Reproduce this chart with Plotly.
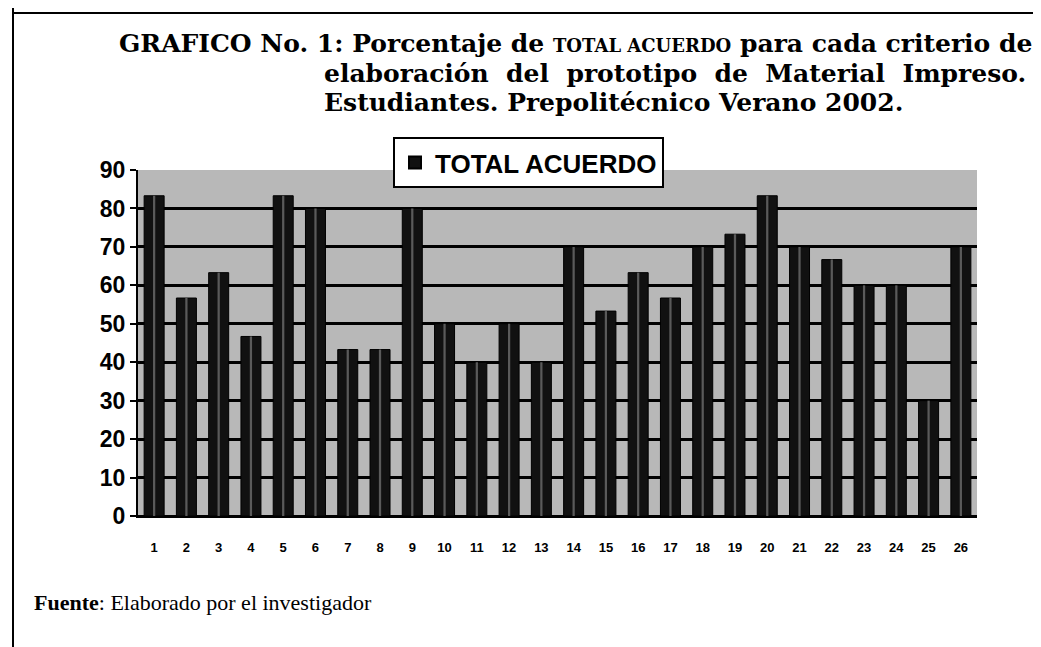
import plotly.graph_objects as go

categories = [str(i) for i in range(1, 27)]
total_acuerdo = [83.3, 56.7, 63.3, 46.7, 83.3, 80.0, 43.3, 43.3, 80.0, 50.0, 40.0, 50.0, 40.0,
                 70.0, 53.3, 63.3, 56.7, 70.0, 73.3, 83.3, 70.0, 66.7, 60.0, 60.0, 30.0, 70.0]
y_ticks = list(range(0, 100, 10))

# page body has an 8px margin, so work in page pixels and shift
OFF = 8
W, H = 1041 - OFF, 647 - OFF
L, R, T, B = 138 - OFF, 977 - OFF, 170 - OFF, 516 - OFF

def px(x):
    return (x - OFF - L) / (R - L)

def py(y):
    return (B - (y - OFF)) / (B - T)

fig = go.Figure()
fig.add_trace(go.Bar(
    x=categories, y=total_acuerdo, name="<b>TOTAL ACUERDO</b>",
    marker=dict(color="#111111", line=dict(color="#000000", width=1)),
    width=0.62, showlegend=True,
))
fig.add_trace(go.Bar(
    x=categories, y=total_acuerdo, name="",
    marker=dict(color="#5a5a5a", line=dict(width=0)),
    width=0.07, showlegend=False, hoverinfo="skip",
))

serif = "DejaVu Serif"
title_lines = [
    ("GRAFICO No. 1: Porcentaje de <span style='font-size:18px'>TOTAL ACUERDO</span> para cada criterio de", 117, 43),
    ("elaboración  del  prototipo  de  Material  Impreso.", 322, 73),
    ("Estudiantes. Prepolitécnico Verano 2002.", 322, 103),
]
annotations = []
for text, x0, yc in title_lines:
    annotations.append(dict(
        text="<b>" + text + "</b>", x=px(x0), y=py(yc), xref="paper", yref="paper",
        xanchor="left", yanchor="middle", showarrow=False,
        font=dict(family=serif, size=25, color="#000000"),
    ))
annotations.append(dict(
    text="<b>Fuente</b>: Elaborado por el investigador", x=px(32), y=py(602),
    xref="paper", yref="paper", xanchor="left", yanchor="middle", showarrow=False,
    font=dict(family="Liberation Serif", size=22, color="#000000"),
))

shapes = [
    dict(type="line", xref="paper", yref="paper", x0=px(13), x1=px(13), y0=py(0), y1=py(660),
         line=dict(color="#000000", width=2)),
    dict(type="line", xref="paper", yref="paper", x0=px(13), x1=px(1041), y0=py(13), y1=py(13),
         line=dict(color="#000000", width=2)),
]

fig.update_layout(
    width=W, height=H,
    margin=dict(l=L, r=W - R, t=T, b=H - B),
    paper_bgcolor="#ffffff", plot_bgcolor="#b8b8b8",
    barmode="overlay", bargap=0.4,
    annotations=annotations, shapes=shapes,
    legend=dict(
        x=px(393), y=py(137), xanchor="left", yanchor="top",
        bordercolor="#000000", borderwidth=2, bgcolor="#ffffff",
        font=dict(family="Liberation Sans", size=26, color="#000000"),
        itemsizing="constant", itemwidth=30,
    ),
    font=dict(family="Liberation Sans", color="#000000"),
)
fig.update_xaxes(
    type="category", showgrid=False, showline=True, linecolor="#000000", linewidth=2,
    ticks="", tickfont=dict(family="Liberation Sans", size=13, color="#000000"),
    ticklabelstandoff=18,
    tickvals=categories, ticktext=["<b>" + c + "</b>" for c in categories],
)
fig.update_yaxes(
    range=[0, 90], tickvals=y_ticks, ticktext=["<b>%d</b>" % v for v in y_ticks],
    showgrid=True, gridcolor="#000000", gridwidth=3,
    showline=True, linecolor="#000000", linewidth=2, mirror=False,
    ticks="outside", ticklen=6, tickwidth=2, tickcolor="#000000",
    tickfont=dict(family="Liberation Sans", size=23, color="#000000"),
    zeroline=True, zerolinecolor="#000000", zerolinewidth=2,
)
fig.write_html("out.html")
